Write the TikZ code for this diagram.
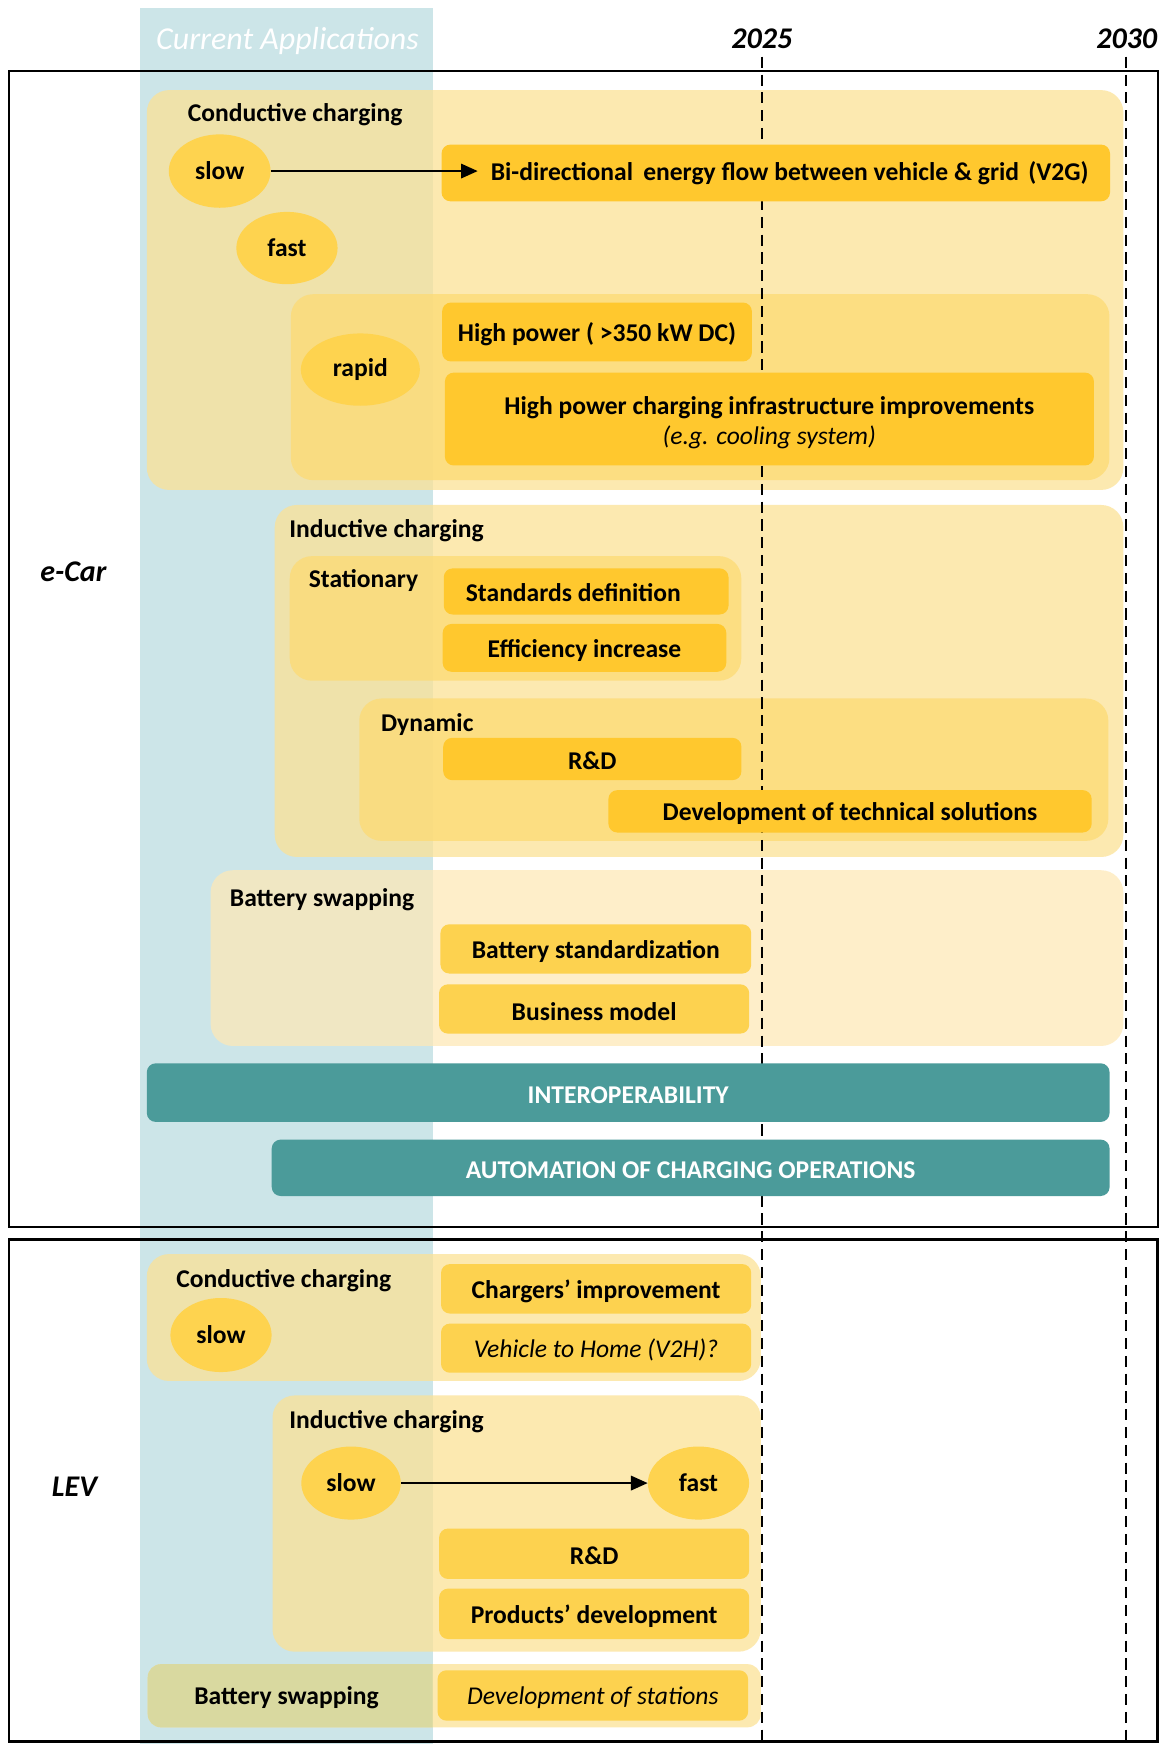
\documentclass[tikz,border=0pt]{standalone}
\usepackage{fontspec}
\setmainfont{Carlito}
\usetikzlibrary{shapes.geometric,arrows.meta,fit}

\definecolor{bandblue}{HTML}{CCE5E8}
\definecolor{grpyellow}{HTML}{FCE193}
\definecolor{subyellow}{HTML}{FDDA72}
\definecolor{paleyellow}{HTML}{FEE9B6}
\definecolor{itemdark}{HTML}{FFC82E}
\definecolor{itemlight}{HTML}{FDD24F}
\definecolor{ovalfill}{HTML}{FED34F}
\definecolor{barteal}{HTML}{4B9B9A}
\definecolor{olivegrp}{HTML}{D9D9A0}

\newcommand\lblfont{\fontsize{23}{28}\selectfont\bfseries}
\newcommand\bigfont{\fontsize{27}{32}\selectfont}

\tikzset{
  grp/.style={rounded corners=20pt, fill=grpyellow, fill opacity=0.73, inner sep=0pt, draw=none},
  subgrp/.style={grp, fill=subyellow},
  palegrp/.style={grp, fill=paleyellow},
  item/.style={rounded corners=8pt, fill=itemdark, inner sep=0pt},
  itemlt/.style={item, fill=itemlight},
  bar/.style={item, fill=barteal},
  itemlabel/.style={inner sep=0pt, font=\lblfont, align=center, yshift=-2pt},
  barlabel/.style={itemlabel, text=white},
  oval/.style={ellipse, fill=ovalfill, inner sep=0pt, font=\lblfont},
  grplabel/.style={anchor=base west, inner sep=0pt, font=\lblfont},
  itemtext/.style={inner sep=0pt, font=\lblfont},
  yearline/.style={dashed, dash pattern=on 10pt off 6pt, line width=1.8pt, black},
  frame/.style={draw=black, line width=2.2pt, inner sep=0pt},
  flow/.style={line width=1.8pt, -{Triangle[length=15pt,width=13pt]}},
}

\begin{document}
\begin{tikzpicture}[x=1pt,y=-1pt]
% canvas
\useasboundingbox (0,0) rectangle (1045,1568);
\fill[white] (0,0) rectangle (1045,1568);

% column of current applications
\fill[bandblue] (126,7) rectangle (389,1568);
\node[anchor=base, inner sep=0pt, text=white, font=\fontsize{28.7}{33}\selectfont\itshape] (curapp) at (258.5,44.4) {Current Applications};

% section frames
\node[frame, fit={(8,64) (1041,1103)}] (ecarframe) {};
\node[frame, fit={(8,1114.6) (1040.5,1565.6)}] (levframe) {};
\node[anchor=center, inner sep=0pt, font=\bigfont\bfseries\itshape] (ecar) at (66,514) {e-Car};
\node[anchor=center, inner sep=0pt, font=\bigfont\bfseries\itshape] (lev) at (67,1337) {LEV};

% ---------- group panels ----------
% e-Car
\node[grp, fit={(132,81) (1010,440.5)}] (gcc) {};
\node[subgrp, fit={(261.5,264.5) (997.5,431.7)}] (grapid) {};
\node[grp, fit={(247,454) (1010,770.5)}] (gind) {};
\node[subgrp, fit={(260.5,500) (666.5,612)}] (gstat) {};
\node[subgrp, fit={(323,628) (996.5,756)}] (gdyn) {};
\node[palegrp, fit={(189.3,782.4) (1010,940.4)}] (gbat) {};
% LEV
\node[grp, fit={(132,1127.5) (684,1241.6)}] (gcc2) {};
\node[grp, fit={(245,1254.6) (684,1485)}] (gind2) {};
\node[grp, rounded corners=12pt, fit={(132.8,1496.2) (684,1553)}] (gbat2) {};
\begin{scope}
  \clip (126,1490) rectangle (389,1560);
  \fill[olivegrp, rounded corners=12pt] (132.8,1496.2) rectangle (684,1553);
\end{scope}

% time axis
\node[anchor=base, inner sep=0pt, font=\bigfont\bfseries\itshape] (y2025) at (685,43.5) {2025};
\node[anchor=base, inner sep=0pt, font=\bigfont\bfseries\itshape] (y2030) at (1013,43.5) {2030};
\coordinate (l25top) at (685,51);
\coordinate (l25bot) at (685,1568);
\coordinate (l30top) at (1012.5,51);
\coordinate (l30bot) at (1012.5,1568);
\draw[yearline] (l25top) -- (l25bot);
\draw[yearline] (l30top) -- (l30bot);

% ---------- e-Car contents ----------
\node[grplabel] (lcc) at (168.6,109.4) {Conductive charging};
\node[grplabel] (lind) at (260,483) {Inductive charging};
\node[grplabel] (lstat) at (277.4,528) {Stationary};
\node[grplabel] (ldyn) at (342.4,657.5) {Dynamic};
\node[grplabel] (lbat) at (206.5,815.4) {Battery swapping};

\node[item, fit={(397,130) (998,181)}] (v2g) {};
\node[itemtext] (v2gtext) at (710,156) {Bi-directional\hspace{4pt} energy flow between vehicle \& grid\hspace{3pt} (V2G)};
\node[item, fit={(397.5,272) (676,325)}, label={[itemlabel]center:{High power ( >350 kW DC)}}] (hp) {};
\node[item, fit={(400,335) (983.5,418.5)}] (hpc) {};
\node[itemtext, align=center] (hpctext) at (691.7,380) {High power charging infrastructure improvements\\[-1pt]{\mdseries\itshape (e.g. cooling system)}};
\node[item, fit={(399,511) (655,552.5)}] (std) {};
\node[itemtext] (stdtext) at (515.5,533) {Standards definition};
\node[item, fit={(398,561) (653,604)}, label={[itemlabel]center:{Efficiency increase}}] (eff) {};
\node[item, fit={(398.5,663.4) (666.6,701.4)}, label={[itemlabel]center:{R\&D}}] (rd1) {};
\node[item, fit={(547,710.4) (981.5,748.5)}, label={[itemlabel]center:{Development of technical solutions}}] (dts) {};
\node[itemlt, fit={(396,831) (675.4,875.3)}, label={[itemlabel]center:{Battery standardization}}] (bst) {};
\node[itemlt, fit={(394.7,885) (673.6,929.3)}, label={[itemlabel]center:{Business model}}] (bmod) {};
\node[bar, fit={(132,956) (997.6,1008.7)}, label={[barlabel]center:{INTEROPERABILITY}}] (interop) {};
\node[bar, fit={(244.3,1024.6) (997.6,1075.3)}, label={[barlabel]center:{AUTOMATION OF CHARGING OPERATIONS}}] (autom) {};

\node[oval, minimum width=91.5pt, minimum height=66pt] (s1) at (197.5,153.8) {slow};
\node[oval, minimum width=91pt, minimum height=65pt] (f1) at (258,223) {fast};
\node[oval, minimum width=107pt, minimum height=65pt] (r1) at (324,332.3) {rapid};

\coordinate (v2gtip) at (429.5,153.8);
\draw[flow] (s1.east) -- (v2gtip);

% ---------- LEV contents ----------
\node[grplabel] (lcc2) at (158.3,1157.6) {Conductive charging};
\node[grplabel] (lind2) at (259.9,1284.4) {Inductive charging};
\node[anchor=base, inner sep=0pt, font=\lblfont] (lbat2) at (257.6,1532.8) {Battery swapping};

\node[itemlt, fit={(396.5,1136.5) (675.4,1181)}, label={[itemlabel]center:{Chargers’ improvement}}] (chg) {};
\node[itemlt, fit={(396.5,1190) (675.4,1234.2)}, label={[itemlabel, font=\lblfont\mdseries\itshape]center:{Vehicle to Home (V2H)?}}] (v2h) {};
\node[itemlt, fit={(394.8,1374.3) (673.6,1419.6)}, label={[itemlabel]center:{R\&D}}] (rd2) {};
\node[itemlt, fit={(394.8,1428.3) (673.6,1473.6)}, label={[itemlabel]center:{Products’ development}}] (prod) {};
\node[itemlt, fit={(393.4,1501.7) (672.6,1547)}, label={[itemlabel, font=\lblfont\mdseries\itshape]center:{Development of stations}}] (dst) {};

\node[oval, minimum width=91pt, minimum height=66.6pt] (s2) at (198.7,1200.3) {slow};
\node[oval, minimum width=89.4pt, minimum height=65.7pt] (s3) at (315.6,1333.4) {slow};
\node[oval, minimum width=91pt, minimum height=65.7pt] (f3) at (628,1333.4) {fast};
\draw[flow] (s3.east) -- (f3.west);
\end{tikzpicture}
\end{document}
